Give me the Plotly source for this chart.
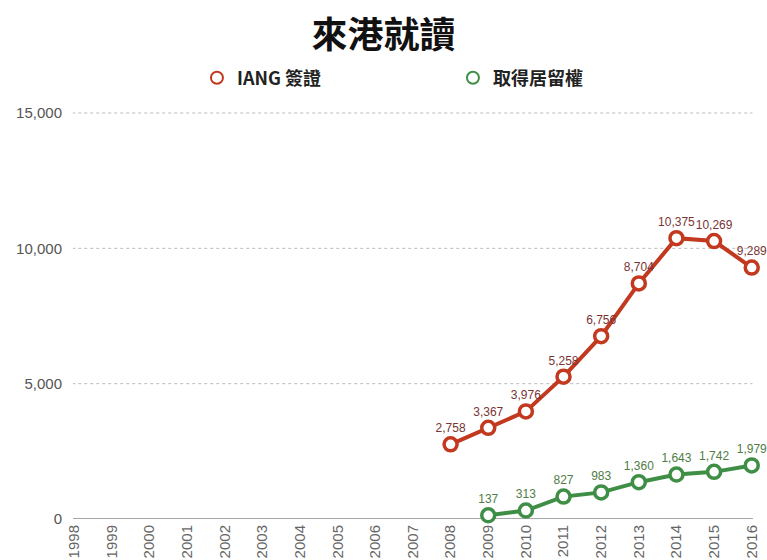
import plotly.graph_objects as go

years = list(range(1998, 2017))
iang_years = [2008, 2009, 2010, 2011, 2012, 2013, 2014, 2015, 2016]
iang_values = [2758, 3367, 3976, 5258, 6756, 8704, 10375, 10269, 9289]
res_years = [2009, 2010, 2011, 2012, 2013, 2014, 2015, 2016]
res_values = [137, 313, 827, 983, 1360, 1643, 1742, 1979]
y_ticks = [0, 5000, 10000, 15000]

RED = "#c2391f"
GREEN = "#3f8e45"
RED_TXT = "#7a3434"
GREEN_TXT = "#4f7d45"
NUMFONT = "Liberation Sans, Arial, sans-serif"
CJK = "Noto Sans CJK TC, Noto Sans CJK SC, sans-serif"

fig = go.Figure()
fig.add_trace(go.Scatter(
    x=iang_years, y=iang_values, mode="lines+markers+text",
    line=dict(color=RED, width=4),
    marker=dict(symbol="circle", size=13, color="white", line=dict(color=RED, width=3.5)),
    text=[f"{v:,}" for v in iang_values], textposition="top center",
    textfont=dict(family=NUMFONT, size=12, color=RED_TXT),
    showlegend=False, cliponaxis=False,
))
fig.add_trace(go.Scatter(
    x=res_years, y=res_values, mode="lines+markers+text",
    line=dict(color=GREEN, width=4),
    marker=dict(symbol="circle", size=13, color="white", line=dict(color=GREEN, width=3.5)),
    text=[f"{v:,}" for v in res_values], textposition="top center",
    textfont=dict(family=NUMFONT, size=12, color=GREEN_TXT),
    showlegend=False, cliponaxis=False,
))
# legend-only entries (marker only)
fig.add_trace(go.Scatter(
    x=[None], y=[None], mode="markers", name="<b>IANG 簽證</b>",
    marker=dict(symbol="circle", size=10, color="white", line=dict(color=RED, width=3)),
))
fig.add_trace(go.Scatter(
    x=[None], y=[None], mode="markers", name="<b>取得居留權</b>",
    marker=dict(symbol="circle", size=10, color="white", line=dict(color=GREEN, width=3)),
))

gridlines = [dict(type="line", xref="x", yref="y", x0=1997.95, x1=2016.02, y0=v, y1=v,
                  line=dict(color="#bbbbbb", width=1, dash="dot"), layer="below")
             for v in y_ticks[1:]]
zero_line = [dict(type="line", xref="x", yref="y", x0=1997.97, x1=2016.03, y0=0, y1=0,
                  line=dict(color="#888888", width=1.5), layer="below")]

fig.update_layout(
    width=767, height=560,
    margin=dict(l=73, r=13, t=100, b=41),
    paper_bgcolor="white", plot_bgcolor="white",
    title=dict(text="<b>來港就讀</b>", x=0.5, xanchor="center", y=0.9375, yanchor="middle",
               font=dict(family=CJK, size=36, color="#111111")),
    legend=dict(orientation="h", x=0.182, xanchor="left", y=1.0525, yanchor="middle",
                entrywidth=211, entrywidthmode="pixels",
                font=dict(family=CJK, size=18, color="#222222"),
                itemsizing="constant", bgcolor="rgba(0,0,0,0)"),
    xaxis=dict(range=[1997.97, 2016.06], tickmode="array", tickvals=years,
               ticktext=[str(y) for y in years], tickangle=-90,
               showgrid=False, zeroline=False, showline=False,
               tickfont=dict(family=NUMFONT, size=15, color="#666666"),
               automargin=False, ticks="", ticklabelstandoff=2),
    yaxis=dict(range=[0, 15480], tickmode="array", tickvals=y_ticks,
               ticktext=[f"{v:,}" for v in y_ticks],
               showgrid=False, zeroline=False, showline=False,
               tickfont=dict(family=NUMFONT, size=15, color="#555555"),
               automargin=False, ticks="", ticklabelstandoff=10),
    shapes=gridlines + zero_line,
)

fig.write_html(
    "out.html",
    config={"displayModeBar": False},
    post_script="document.body.style.margin='0';document.body.style.overflow='hidden';",
)
